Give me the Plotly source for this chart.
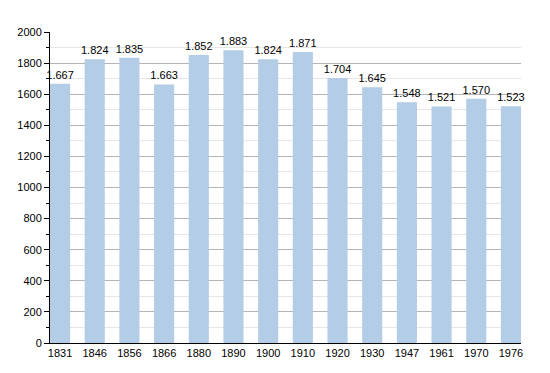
import plotly.graph_objects as go

years = ["1831", "1846", "1856", "1866", "1880", "1890", "1900", "1910", "1920", "1930", "1947", "1961", "1970", "1976"]
population = [1667, 1824, 1835, 1663, 1852, 1883, 1824, 1871, 1704, 1645, 1548, 1521, 1570, 1523]
labels = [f"{v:,}".replace(",", ".") for v in population]

fig = go.Figure(go.Bar(
    x=list(range(len(years))), y=population, text=labels, textposition="outside",
    textfont=dict(family="Liberation Sans, Arial", size=11, color="black"),
    constraintext="none",
    marker=dict(color="#b3cde6", line=dict(width=0)), width=0.58, cliponaxis=False,
))
fig.update_layout(
    width=550, height=373, margin=dict(l=42, r=37, t=24, b=38, autoexpand=False),
    plot_bgcolor="white", paper_bgcolor="white", showlegend=False,
    font=dict(family="Liberation Sans, Arial", size=11, color="black"),
)
fig.update_xaxes(
    tickmode="array", tickvals=list(range(len(years))), ticktext=years,
    range=[-0.29, 13.29], showline=True, linecolor="black", linewidth=1,
    ticks="", showgrid=False, zeroline=False, automargin=False,
)
fig.update_yaxes(
    range=[0, 2000], dtick=200, showline=True, linecolor="black", linewidth=1,
    ticks="outside", ticklen=5, tickcolor="black", gridcolor="#b4b4b4", gridwidth=1,
    zeroline=False, automargin=False,
    minor=dict(dtick=100, showgrid=True, gridcolor="#e6e6e6", ticks="outside", ticklen=3, tickcolor="black"),
)
fig.write_html("out.html")
